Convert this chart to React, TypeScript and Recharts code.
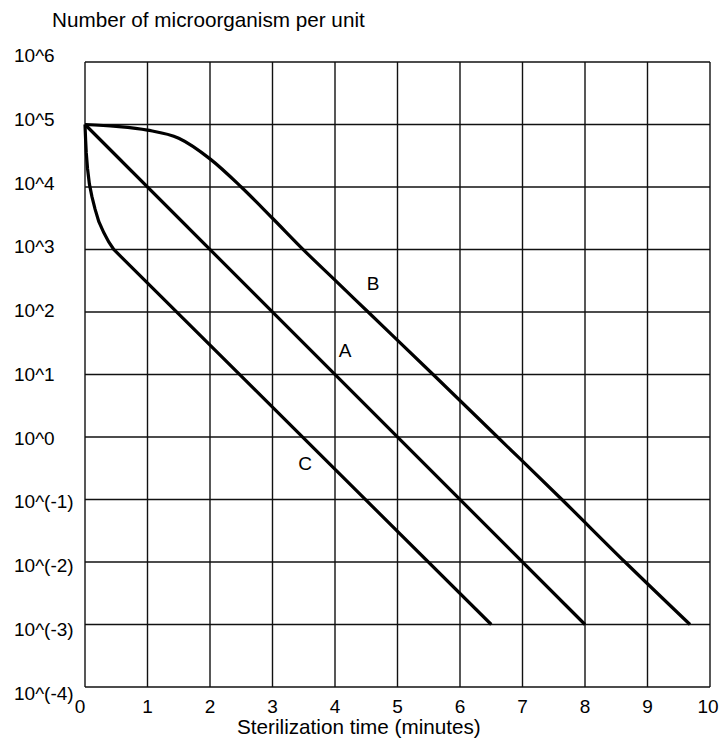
import { LineChart, Line, XAxis, YAxis, CartesianGrid, ReferenceDot } from 'recharts'

// exponents (log10 of count)
const xTicks = [0, 1, 2, 3, 4, 5, 6, 7, 8, 9, 10]
const yTicks = [-4, -3, -2, -1, 0, 1, 2, 3, 4, 5, 6]

const curveA = [
  { x: 0, y: 5 },
  { x: 8, y: -3 },
]

const curveB = [
  { x: 0, y: 5 },
  { x: 0.5, y: 4.97 },
  { x: 1, y: 4.91 },
  { x: 1.5, y: 4.78 },
  { x: 2, y: 4.45 },
  { x: 2.5, y: 4.0 },
  { x: 3, y: 3.5 },
  { x: 3.5, y: 2.99 },
  { x: 4, y: 2.51 },
  { x: 4.53, y: 2 },
  { x: 5.57, y: 1 },
  { x: 6.6, y: 0 },
  { x: 7.63, y: -1 },
  { x: 8.64, y: -2 },
  { x: 9.68, y: -3 },
]

const curveC = [
  { x: 0, y: 5 },
  { x: 0.01, y: 4.75 },
  { x: 0.02, y: 4.55 },
  { x: 0.04, y: 4.3 },
  { x: 0.07, y: 4.05 },
  { x: 0.11, y: 3.85 },
  { x: 0.16, y: 3.65 },
  { x: 0.22, y: 3.45 },
  { x: 0.3, y: 3.27 },
  { x: 0.38, y: 3.12 },
  { x: 0.46, y: 3.0 },
  { x: 6.5, y: -3 },
]

const curveLabels = [
  { name: 'A', x: 4.16, y: 1.39 },
  { name: 'B', x: 4.61, y: 2.46 },
  { name: 'C', x: 3.52, y: -0.42 },
]

const FONT = '"Liberation Sans", Arial, sans-serif'

const fmtPow = (v: number) => (v >= 0 ? `10^${v}` : `10^(${v})`)

const YTick = (props: any) => {
  const { y, payload } = props
  return (
    <text
      x={14}
      y={y - 6.5 + (6 - payload.value) * 1.25}
      textAnchor="start"
      dominantBaseline="central"
      fontSize={19}
      fontFamily={FONT}
      fill="#000"
    >
      {fmtPow(payload.value)}
    </text>
  )
}

const XTick = (props: any) => {
  const { x, payload } = props
  const dx = payload.value === 0 ? -5 : payload.value === 10 ? -2 : 0
  return (
    <text
      x={x + dx}
      y={706}
      textAnchor="middle"
      dominantBaseline="central"
      fontSize={19}
      fontFamily={FONT}
      fill="#000"
    >
      {payload.value}
    </text>
  )
}

const App = () => {
  return (
    <div style={{ position: 'absolute', left: 0, top: 0, width: 719, height: 740, background: '#fff' }}>
      <div
        style={{
          position: 'absolute',
          left: 52,
          top: 8,
          fontSize: 20.7,
          fontFamily: FONT,
          lineHeight: '24px',
          whiteSpace: 'nowrap',
        }}
      >
        Number of microorganism per unit
      </div>
      <div
        style={{
          position: 'absolute',
          left: 237,
          top: 715,
          fontSize: 20.7,
          fontFamily: FONT,
          lineHeight: '24px',
          whiteSpace: 'nowrap',
        }}
      >
        Sterilization time (minutes)
      </div>
      <LineChart width={719} height={740} margin={{ top: 62, right: 9, bottom: 0, left: 0 }}>
        <CartesianGrid stroke="#111" strokeWidth={1.4} />
        <XAxis
          type="number"
          dataKey="x"
          domain={[0, 10]}
          ticks={xTicks}
          interval={0}
          height={53}
          axisLine={false}
          tickLine={false}
          tick={<XTick />}
          allowDuplicatedCategory={false}
        />
        <YAxis
          type="number"
          domain={[-4, 6]}
          ticks={yTicks}
          interval={0}
          width={85}
          axisLine={false}
          tickLine={false}
          tick={<YTick />}
        />
        <Line data={curveA} dataKey="y" type="linear" stroke="#000" strokeWidth={3.2} dot={false} isAnimationActive={false} />
        <Line data={curveB} dataKey="y" type="monotone" stroke="#000" strokeWidth={3.2} dot={false} isAnimationActive={false} />
        <Line data={curveC} dataKey="y" type="linear" stroke="#000" strokeWidth={3.2} dot={false} isAnimationActive={false} />
        {curveLabels.map((l) => (
          <ReferenceDot
            key={l.name}
            x={l.x}
            y={l.y}
            r={0}
            fill="none"
            stroke="none"
            label={{ value: l.name, position: 'center', fontSize: 19, fontFamily: FONT, fill: '#000' }}
          />
        ))}
      </LineChart>
    </div>
  )
}

export default App
